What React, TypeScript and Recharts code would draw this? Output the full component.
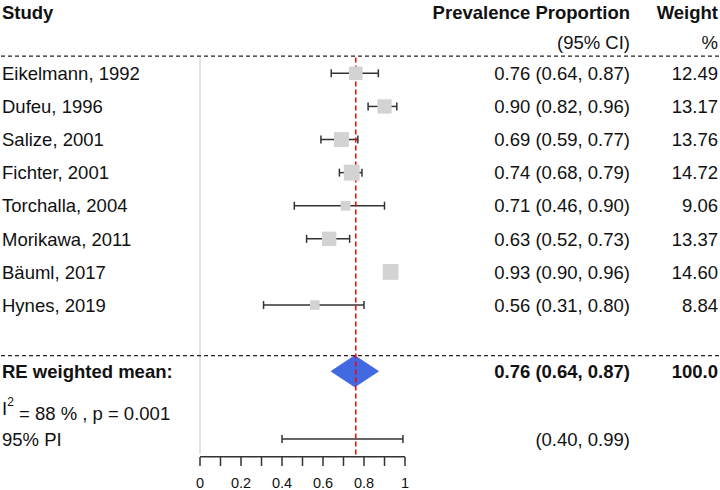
import React from 'react';
import { ScatterChart, Scatter, XAxis, YAxis, ReferenceLine, ReferenceArea, ErrorBar } from 'recharts';

const studies = ['Eikelmann, 1992', 'Dufeu, 1996', 'Salize, 2001', 'Fichter, 2001', 'Torchalla, 2004', 'Morikawa, 2011', 'Bäuml, 2017', 'Hynes, 2019'];
const estimates = [0.76, 0.90, 0.69, 0.74, 0.71, 0.63, 0.93, 0.56];
const lowerCI = [0.64, 0.82, 0.59, 0.68, 0.46, 0.52, 0.90, 0.31];
const upperCI = [0.87, 0.96, 0.77, 0.79, 0.90, 0.73, 0.96, 0.80];
const weights = [12.49, 13.17, 13.76, 14.72, 9.06, 13.37, 14.60, 8.84];
const pooledEstimate = 0.76;
const pooledLower = 0.64;
const pooledUpper = 0.87;
const pooledWeight = '100.0';
const piLower = 0.40;
const piUpper = 0.99;
const i2Value = 88;
const pValue = '0.001';
const xTicks = [0, 0.1, 0.2, 0.3, 0.4, 0.5, 0.6, 0.7, 0.8, 0.9, 1];

// row layout (in row units)
const ROW_HEADER1 = -1.84;
const ROW_HEADER2 = -0.95;
const ROW_TOP_RULE = -0.52;
const ROW_MID_RULE = 8.53;
const ROW_POOLED = 9;
const ROW_I2 = 10.12;
const ROW_PI = 11.05;
const Y_MIN = -2.215;
const Y_MAX = 11.59;

const W = 720;
const H = 490;
const Y_AXIS_W = 1;
const AXIS_PX_LEFT = 200;
const AXIS_PX_RIGHT = 405;
const UNIT = AXIS_PX_RIGHT - AXIS_PX_LEFT;
const X_MIN = -(AXIS_PX_LEFT - Y_AXIS_W) / UNIT;
const X_MAX = (W - AXIS_PX_LEFT) / UNIT;

const COL_LEFT = 2;
const COL_MID = 630;
const COL_RIGHT = 718;
const FONT = '"Liberation Sans", Arial, Helvetica, sans-serif';
const FS = 18.5;
const TXT = '#111';

const f2 = (v: number) => v.toFixed(2);

const studyData = studies.map((s, i) => ({
  x: estimates[i],
  y: i,
  w: weights[i],
  err: [estimates[i] - lowerCI[i], upperCI[i] - estimates[i]],
}));

const piData = [{ x: piLower, y: ROW_PI, err: [0, piUpper - piLower] }];

type RowText = { row: number; left?: any; mid?: string; right?: string; bold?: boolean };

const textRows: RowText[] = [
  { row: ROW_HEADER1, left: 'Study', mid: 'Prevalence Proportion', right: 'Weight', bold: true },
  { row: ROW_HEADER2, mid: '(95% CI)', right: '%' },
  ...studies.map((s, i) => ({
    row: i,
    left: s,
    mid: `${f2(estimates[i])} (${f2(lowerCI[i])}, ${f2(upperCI[i])})`,
    right: f2(weights[i]),
  })),
  {
    row: ROW_POOLED,
    left: 'RE weighted mean:',
    mid: `${f2(pooledEstimate)} (${f2(pooledLower)}, ${f2(pooledUpper)})`,
    right: pooledWeight,
    bold: true,
  },
  { row: ROW_I2, left: 'I2' },
  { row: ROW_PI, left: '95% PI', mid: `(${f2(piLower)}, ${f2(piUpper)})` },
];

const RowTick = (props: any) => {
  const { y, payload } = props;
  const item = textRows.find((r) => Math.abs(r.row - payload.value) < 1e-6);
  if (!item) return null;
  const fw = item.bold ? 'bold' : 'normal';
  const common = { fontFamily: FONT, fontSize: FS, fill: TXT, fontWeight: fw, dy: '0.36em' } as any;
  return (
    <g>
      {item.left === 'I2' ? (
        <text x={COL_LEFT} y={y} {...common} textAnchor="start">
          <tspan>I</tspan>
          <tspan dy="-0.75em" fontSize={12}>2</tspan>
          <tspan dy="0.75em">{` = ${i2Value} % , p = ${pValue}`}</tspan>
        </text>
      ) : item.left ? (
        <text x={COL_LEFT} y={y} {...common} textAnchor="start">{item.left}</text>
      ) : null}
      {item.mid ? (
        <text x={COL_MID} y={y} {...common} textAnchor="end">{item.mid}</text>
      ) : null}
      {item.right ? (
        <text x={COL_RIGHT} y={y} {...common} textAnchor="end">{item.right}</text>
      ) : null}
    </g>
  );
};

const SquareShape = (props: any) => {
  const { cx, cy, payload } = props;
  const s = payload.w * 1.08;
  return <rect x={cx - s / 2} y={cy - s / 2} width={s} height={s} fill="#d3d3d3" />;
};

const EmptyShape = () => <g />;

const DiamondShape = (props: any) => {
  const { x, y, width, height } = props;
  const left = Math.min(x, x + width);
  const right = Math.max(x, x + width);
  const top = Math.min(y, y + height);
  const bottom = Math.max(y, y + height);
  const cx = (left + right) / 2;
  const cy = (top + bottom) / 2;
  return (
    <polygon
      points={`${left},${cy} ${cx},${top} ${right},${cy} ${cx},${bottom}`}
      fill="#4169e1"
      stroke="#4169e1"
      strokeWidth={1}
    />
  );
};

const xTickFormat = (v: number) => {
  const k = Math.round(v * 10);
  if (k % 2 !== 0) return '';
  if (k === 0) return '0';
  if (k === 10) return '1';
  return v.toFixed(1);
};

export default function App() {
  return (
    <div style={{ position: 'fixed', left: 0, top: 0, width: W, height: H, background: '#fff' }}>
      <ScatterChart width={W} height={H} margin={{ top: 0, right: 0, bottom: 0, left: 0 }} style={{ fontFamily: FONT }}>
        <XAxis
          type="number"
          dataKey="x"
          domain={[X_MIN, X_MAX]}
          allowDataOverflow
          ticks={xTicks}
          interval={0}
          tickFormatter={xTickFormat}
          axisLine={false}
          tickLine={{ stroke: '#333', strokeWidth: 1.5 }}
          tickSize={9}
          tickMargin={12}
          height={33}
          tick={{ fill: TXT, fontSize: 14.5, fontFamily: FONT }}
        />
        <YAxis
          type="number"
          dataKey="y"
          domain={[Y_MIN, Y_MAX]}
          allowDataOverflow
          reversed
          ticks={textRows.map((r) => r.row)}
          interval={0}
          width={Y_AXIS_W}
          axisLine={false}
          tickLine={false}
          tick={<RowTick />}
        />
        <ReferenceLine
          segment={[{ x: 0, y: ROW_TOP_RULE + 0.04 }, { x: 0, y: Y_MAX - 0.1 }]}
          stroke="#d9d9d9"
          strokeWidth={1.5}
        />
        <ReferenceLine y={ROW_TOP_RULE} stroke="#222" strokeDasharray="4 3" strokeWidth={1.2} />
        <ReferenceLine y={ROW_MID_RULE} stroke="#222" strokeDasharray="4 3" strokeWidth={1.2} />
        <ReferenceLine
          segment={[{ x: 0, y: Y_MAX - 0.005 }, { x: 1, y: Y_MAX - 0.005 }]}
          stroke="#333"
          strokeWidth={1.5}
        />
        <Scatter data={studyData} shape={<SquareShape />} isAnimationActive={false}>
          <ErrorBar dataKey="err" direction="x" width={4} stroke="#333" strokeWidth={1.5} isAnimationActive={false} />
        </Scatter>
        <Scatter data={piData} shape={<EmptyShape />} isAnimationActive={false}>
          <ErrorBar dataKey="err" direction="x" width={4} stroke="#333" strokeWidth={1.5} isAnimationActive={false} />
        </Scatter>
        <ReferenceLine
          segment={[{ x: pooledEstimate, y: ROW_TOP_RULE + 0.04 }, { x: pooledEstimate, y: Y_MAX }]}
          stroke="#ff0000"
          strokeDasharray="5 3"
          strokeWidth={1.5}
        />
        <ReferenceArea
          x1={pooledLower}
          x2={pooledUpper}
          y1={ROW_POOLED - 0.47}
          y2={ROW_POOLED + 0.47}
          shape={<DiamondShape />}
        />
      </ScatterChart>
    </div>
  );
}
